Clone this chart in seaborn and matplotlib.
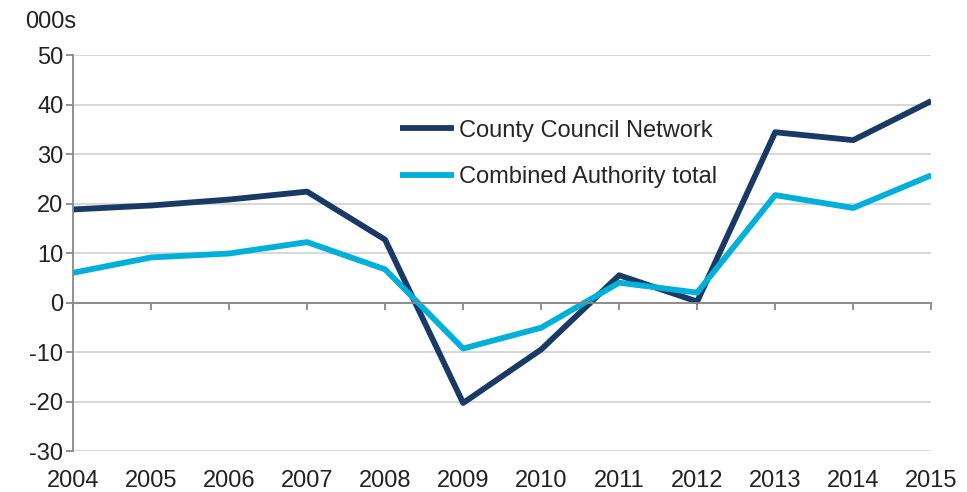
import numpy as np
import pandas as pd
import seaborn as sns
import matplotlib.pyplot as plt

# values (thousands)
years = [2004, 2005, 2006, 2007, 2008, 2009, 2010, 2011, 2012, 2013, 2014, 2015]
county_council = [18.8, 19.6, 20.8, 22.4, 12.7, -20.3, -9.5, 5.5, 0.2, 34.4, 32.8, 40.7]
combined_authority = [6.0, 9.1, 9.9, 12.2, 6.7, -9.3, -5.1, 4.0, 2.0, 21.7, 19.1, 25.7]
series_names = ["County Council Network", "Combined Authority total"]
y_ticks = [-30, -20, -10, 0, 10, 20, 30, 40, 50]

df = pd.DataFrame({
    "year": years * 2,
    "value": county_council + combined_authority,
    "series": [series_names[0]] * len(years) + [series_names[1]] * len(years),
})

sns.set_style("white")
plt.rcParams["font.family"] = ["Liberation Sans", "DejaVu Sans"]
plt.rcParams["axes.unicode_minus"] = False

fs = 17
text_col = "#222222"

fig = plt.figure(figsize=(9.67, 4.92), dpi=100)
ax = fig.add_axes([0.0755, 0.0833, 0.8875, 0.8049])

palette = {series_names[0]: "#1a3a66", series_names[1]: "#00b0da"}
sns.lineplot(data=df, x="year", y="value", hue="series", palette=palette,
             linewidth=4.2, ax=ax, legend=True)
for ln in ax.lines:
    ln.set_solid_capstyle("butt")

ax.set_xlim(years[0], years[-1])
ax.set_ylim(y_ticks[0], y_ticks[-1])
ax.set_yticks(y_ticks)
ax.yaxis.grid(True, color="#d4d4d4", linewidth=1.3)
ax.set_axisbelow(True)
ax.set_xlabel("")
ax.set_ylabel("")

axis_grey = "#888888"
for s in ["top", "right"]:
    ax.spines[s].set_visible(False)
ax.spines["left"].set_color(axis_grey)
ax.spines["left"].set_linewidth(1.3)
ax.spines["bottom"].set_position(("data", 0))
ax.spines["bottom"].set_color(axis_grey)
ax.spines["bottom"].set_linewidth(1.3)

ax.set_xticks(years)
ax.tick_params(axis="x", direction="out", length=5, width=1.3, color=axis_grey,
               labelbottom=False, bottom=True)
ax.tick_params(axis="y", direction="out", length=5, width=1.3, color=axis_grey,
               labelsize=fs, labelcolor=text_col, pad=2, left=True)

# year labels along the bottom of the plot area
sec = ax.secondary_xaxis("bottom")
sec.set_xticks(years)
sec.set_xticklabels([str(y) for y in years])
sec.spines["bottom"].set_visible(False)
sec.tick_params(axis="x", length=0, labelsize=fs, labelcolor=text_col, pad=14)

fig.text(0.026, 0.955, "000s", fontsize=fs, color=text_col, va="center", ha="left")

handles, labels = ax.get_legend_handles_labels()
ax.legend(handles, labels, loc="upper left", bbox_to_anchor=(0.4137, 0.757),
          bbox_transform=fig.transFigure, frameon=False, fontsize=fs,
          handlelength=2.3, handletextpad=0.2, labelspacing=1.03,
          borderpad=0, borderaxespad=0)

fig.savefig("out.png", dpi=100)
